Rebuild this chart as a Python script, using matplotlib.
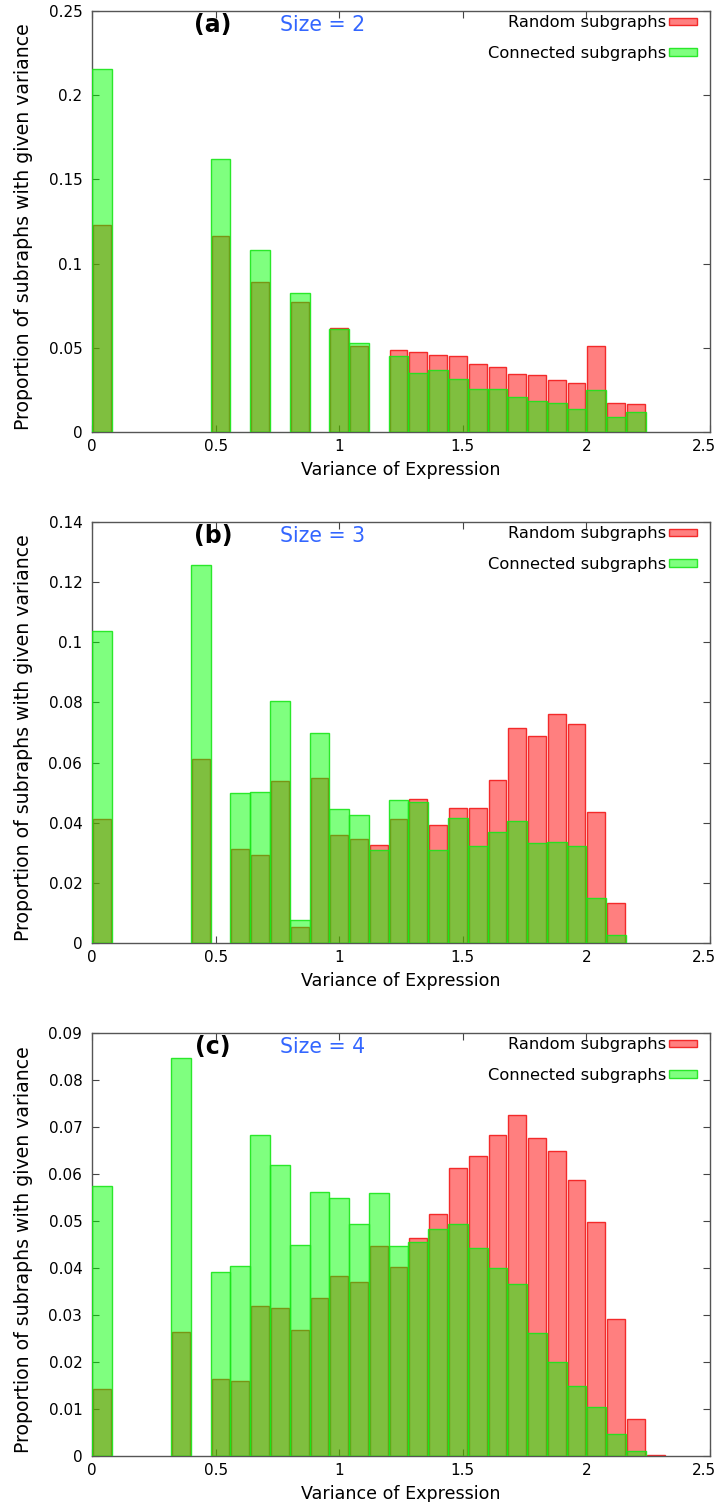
import matplotlib
matplotlib.use("Agg")
import matplotlib.pyplot as plt
import matplotlib.transforms as mtransforms
from matplotlib.patches import Patch
from matplotlib.ticker import FuncFormatter

plt.rcParams['font.family'] = ['DejaVu Sans']

bin_width = 0.08

# Panel (a): size 2
a_random_x = [0.00, 0.48, 0.64, 0.80, 0.96, 1.04, 1.20, 1.28, 1.36, 1.44, 1.52, 1.60,
              1.68, 1.76, 1.84, 1.92, 2.00, 2.08, 2.16]
a_random_y = [0.1229, 0.1164, 0.0893, 0.0771, 0.0619, 0.0512, 0.0486, 0.0474, 0.0457,
              0.0449, 0.0403, 0.0385, 0.0344, 0.0338, 0.0310, 0.0291, 0.0510, 0.0170, 0.0166]
a_conn_x = a_random_x
a_conn_y = [0.2158, 0.1623, 0.1079, 0.0826, 0.0611, 0.0528, 0.0453, 0.0350, 0.0370,
            0.0316, 0.0253, 0.0253, 0.0209, 0.0186, 0.0174, 0.0138, 0.0251, 0.0087, 0.0121]

# Panel (b): size 3
b_random_x = [0.00, 0.40, 0.56, 0.64, 0.72, 0.80, 0.88, 0.96, 1.04, 1.12, 1.20, 1.28,
              1.36, 1.44, 1.52, 1.60, 1.68, 1.76, 1.84, 1.92, 2.00, 2.08]
b_random_y = [0.0412, 0.0611, 0.0312, 0.0292, 0.0538, 0.0052, 0.0549, 0.0359, 0.0345,
              0.0325, 0.0414, 0.0478, 0.0392, 0.0448, 0.0448, 0.0542, 0.0714, 0.0690,
              0.0763, 0.0729, 0.0435, 0.0133]
b_conn_x = b_random_x
b_conn_y = [0.1039, 0.1258, 0.0498, 0.0501, 0.0804, 0.0076, 0.0697, 0.0446, 0.0425,
            0.0310, 0.0475, 0.0469, 0.0310, 0.0415, 0.0323, 0.0369, 0.0405, 0.0331,
            0.0336, 0.0321, 0.0151, 0.0027]

# Panel (c): size 4
c_random_x = [0.00, 0.32, 0.48, 0.56, 0.64, 0.72, 0.80, 0.88, 0.96, 1.04, 1.12, 1.20,
              1.28, 1.36, 1.44, 1.52, 1.60, 1.68, 1.76, 1.84, 1.92, 2.00, 2.08, 2.16, 2.24]
c_random_y = [0.0142, 0.0263, 0.0163, 0.0160, 0.0320, 0.0315, 0.0268, 0.0337, 0.0382,
              0.0371, 0.0447, 0.0403, 0.0463, 0.0514, 0.0612, 0.0639, 0.0683, 0.0726,
              0.0676, 0.0649, 0.0588, 0.0498, 0.0291, 0.0078, 0.0003]
c_conn_x = c_random_x[:-1]
c_conn_y = [0.0575, 0.0847, 0.0391, 0.0404, 0.0683, 0.0619, 0.0449, 0.0561, 0.0549,
            0.0494, 0.0559, 0.0447, 0.0456, 0.0483, 0.0494, 0.0443, 0.0400, 0.0367,
            0.0261, 0.0201, 0.0149, 0.0104, 0.0047, 0.0011]

panel_labels = ["(a)", "(b)", "(c)"]
size_labels = ["Size = 2", "Size = 3", "Size = 4"]
y_maxes = [0.25, 0.14, 0.09]
y_ticks = [[0, 0.05, 0.1, 0.15, 0.2, 0.25],
           [0, 0.02, 0.04, 0.06, 0.08, 0.1, 0.12, 0.14],
           [0, 0.01, 0.02, 0.03, 0.04, 0.05, 0.06, 0.07, 0.08, 0.09]]
x_ticks = [0, 0.5, 1, 1.5, 2, 2.5]

panels = [
    (a_random_x, a_random_y, a_conn_x, a_conn_y),
    (b_random_x, b_random_y, b_conn_x, b_conn_y),
    (c_random_x, c_random_y, c_conn_x, c_conn_y),
]

W, H = 719, 1502
fig = plt.figure(figsize=(W / 100, H / 100), dpi=100)

# pixel boxes: (left, top, right, bottom)
boxes = [(92, 11, 710, 432), (92, 522, 710, 943), (92, 1033, 710, 1456)]

fmt = FuncFormatter(lambda v, p: "%g" % v)
red_face = (1, 0, 0, 0.5)
red_edge = (0.95, 0.1, 0.1, 0.9)
green_face = (0, 1, 0, 0.5)
green_edge = (0.1, 0.9, 0.1, 0.9)

for i, (rx, ry, gx, gy) in enumerate(panels):
    l, t, r, b = boxes[i]
    ax = fig.add_axes([l / W, 1 - b / H, (r - l) / W, (b - t) / H])
    ax.bar([x + 0.004 for x in rx], ry, width=bin_width - 0.008, align='edge',
           facecolor=red_face, edgecolor=red_edge, linewidth=1.0, zorder=2)
    ax.bar(gx, gy, width=bin_width, align='edge',
           facecolor=green_face, edgecolor=green_edge, linewidth=1.0, zorder=3)
    ax.set_xlim(0, 2.5)
    ax.set_ylim(0, y_maxes[i])
    ax.set_xticks(x_ticks)
    ax.set_yticks(y_ticks[i])
    ax.xaxis.set_major_formatter(fmt)
    ax.yaxis.set_major_formatter(fmt)
    ax.tick_params(direction='in', top=True, right=True, length=5, width=0.8,
                   labelsize=11, color='#444444', pad=5)
    ax.tick_params(axis='y', pad=7)
    for s in ax.spines.values():
        s.set_color('#555555')
        s.set_linewidth(1.0)
    # shift last x tick label slightly left so it stays inside the image
    last = ax.get_xticklabels()[-1]
    last.set_transform(last.get_transform() +
                       mtransforms.ScaledTranslation(-6 / 100, 0, fig.dpi_scale_trans))
    ax.set_xlabel("Variance of Expression", fontsize=12.6, labelpad=5)
    ax.set_ylabel("Proportion of subraphs with given variance", fontsize=13.6)
    ax.yaxis.set_label_coords(-0.0955, 0.489)
    ax.text(0.49, 1 - 14 / 421, panel_labels[i], fontsize=17, fontweight='bold',
            ha='center', va='center', transform=ax.get_xaxis_transform())
    ax.text(0.934, 1 - 14 / 421, size_labels[i], fontsize=14.8, color='#3366ff',
            ha='center', va='center', transform=ax.get_xaxis_transform())
    handles = [Patch(facecolor=red_face, edgecolor=red_edge, label="Random subgraphs"),
               Patch(facecolor=green_face, edgecolor=green_edge, label="Connected subgraphs")]
    ax.legend(handles=handles, loc='upper right', frameon=False, markerfirst=False,
              fontsize=11.7, handlelength=1.7, handleheight=0.35, labelspacing=0.95,
              handletextpad=0.2, borderaxespad=0.0, borderpad=0.0,
              bbox_to_anchor=(0.979, 0.99))

fig.savefig("out.png", dpi=100)
